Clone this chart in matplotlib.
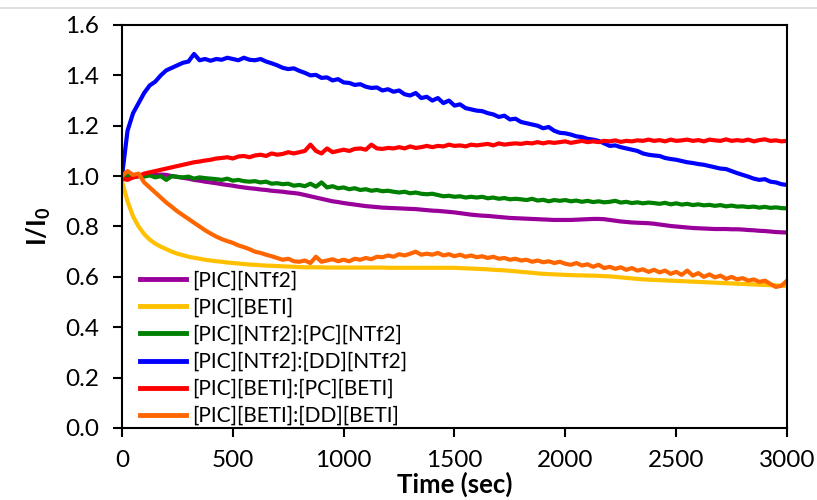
import numpy as np
import matplotlib
matplotlib.use("Agg")
import matplotlib.pyplot as plt
from matplotlib.lines import Line2D

plt.rcParams['font.family'] = ['Lato', 'DejaVu Sans']

# Sampling times (sec), one reading every 25 s
time_s = np.arange(0, 3001, 25)

labels = ["[PIC][NTf2]", "[PIC][BETI]", "[PIC][NTf2]:[PC][NTf2]",
          "[PIC][NTf2]:[DD][NTf2]", "[PIC][BETI]:[PC][BETI]", "[PIC][BETI]:[DD][BETI]"]
colors = ["#990099", "#FFC000", "#008000", "#0000FF", "#FF0000", "#FF6600"]

pic_ntf2 = [
    1.00, 0.998, 1.0, 1.002, 1.003, 1.005, 1.005, 1.006,
    1.005, 1.0, 0.997, 0.993, 0.99, 0.985, 0.982, 0.978,
    0.975, 0.972, 0.968, 0.965, 0.962, 0.958, 0.955, 0.952,
    0.95, 0.947, 0.945, 0.942, 0.94, 0.938, 0.935, 0.933,
    0.93, 0.925, 0.92, 0.915, 0.91, 0.905, 0.9, 0.897,
    0.893, 0.89, 0.887, 0.884, 0.881, 0.879, 0.877, 0.875,
    0.874, 0.873, 0.872, 0.871, 0.87, 0.869, 0.867, 0.865,
    0.863, 0.862, 0.86, 0.858, 0.856, 0.853, 0.85, 0.847,
    0.845, 0.843, 0.842, 0.84, 0.838, 0.836, 0.834, 0.833,
    0.832, 0.831, 0.83, 0.829, 0.828, 0.827, 0.826, 0.826,
    0.826, 0.826, 0.827, 0.828, 0.829, 0.83, 0.83, 0.829,
    0.826, 0.823, 0.82, 0.818, 0.816, 0.815, 0.814, 0.813,
    0.811, 0.808, 0.805, 0.802, 0.8, 0.798, 0.796, 0.794,
    0.793, 0.792, 0.791, 0.79, 0.79, 0.79, 0.789, 0.789,
    0.788, 0.786, 0.785, 0.783, 0.782, 0.78, 0.778, 0.777,
    0.776]

pic_beti = [
    0.98, 0.90, 0.84, 0.80, 0.77, 0.748, 0.732, 0.72,
    0.71, 0.70, 0.692, 0.686, 0.68, 0.676, 0.672, 0.668,
    0.665, 0.662, 0.66, 0.657, 0.655, 0.653, 0.651, 0.649,
    0.648, 0.646, 0.645, 0.644, 0.643, 0.642, 0.641, 0.64,
    0.639, 0.638, 0.638, 0.638, 0.638, 0.637, 0.637, 0.637,
    0.637, 0.637, 0.637, 0.637, 0.637, 0.637, 0.637, 0.637,
    0.636, 0.636, 0.636, 0.636, 0.636, 0.636, 0.636, 0.636,
    0.636, 0.636, 0.636, 0.636, 0.636, 0.635, 0.634, 0.633,
    0.632, 0.631, 0.63, 0.628, 0.627, 0.626, 0.624, 0.622,
    0.62, 0.618, 0.616, 0.614, 0.612, 0.611, 0.61, 0.609,
    0.608, 0.607, 0.606, 0.606, 0.605, 0.605, 0.604, 0.603,
    0.602, 0.6, 0.598, 0.596, 0.594, 0.592, 0.59, 0.589,
    0.588, 0.587, 0.586, 0.585, 0.584, 0.583, 0.582, 0.581,
    0.58, 0.579, 0.578, 0.577, 0.576, 0.575, 0.574, 0.573,
    0.572, 0.571, 0.57, 0.569, 0.568, 0.567, 0.566, 0.565,
    0.564]

ntf2_pc = [
    1.00, 1.005, 0.995, 1.00, 0.998, 1.003, 0.995, 1.00,
    0.985, 1.0, 0.997, 0.995, 0.998, 0.99, 0.995, 0.992,
    0.99, 0.988, 0.985, 0.99, 0.982, 0.985, 0.98, 0.978,
    0.98, 0.975, 0.978, 0.97, 0.972, 0.968, 0.97, 0.962,
    0.965, 0.96, 0.97, 0.958, 0.975, 0.955, 0.96, 0.952,
    0.955, 0.948, 0.952, 0.945, 0.948, 0.942, 0.945, 0.94,
    0.942, 0.938, 0.935, 0.938, 0.932, 0.935, 0.93, 0.928,
    0.93, 0.925, 0.92, 0.922, 0.918, 0.92, 0.915, 0.918,
    0.915, 0.918, 0.912, 0.915, 0.91, 0.913, 0.908, 0.91,
    0.908, 0.905, 0.91, 0.903, 0.906, 0.9, 0.905, 0.902,
    0.905, 0.9, 0.903, 0.898, 0.902, 0.897, 0.9, 0.896,
    0.898, 0.902, 0.895, 0.898, 0.893, 0.896, 0.892, 0.895,
    0.893, 0.89, 0.894, 0.888, 0.892, 0.887, 0.89, 0.885,
    0.888, 0.884, 0.886, 0.882, 0.885, 0.88, 0.883, 0.879,
    0.88, 0.877, 0.879, 0.875, 0.878, 0.874, 0.876, 0.873,
    0.872]

ntf2_dd = [
    1.00, 1.18, 1.25, 1.29, 1.33, 1.36, 1.375, 1.40,
    1.42, 1.43, 1.44, 1.45, 1.455, 1.485, 1.46, 1.465,
    1.458, 1.465, 1.462, 1.47, 1.465, 1.46, 1.47, 1.462,
    1.46, 1.465, 1.455, 1.448, 1.44, 1.43, 1.425, 1.428,
    1.418, 1.41, 1.40, 1.402, 1.39, 1.392, 1.38, 1.385,
    1.372, 1.37, 1.362, 1.365, 1.355, 1.35, 1.352, 1.34,
    1.345, 1.335, 1.34, 1.325, 1.32, 1.33, 1.31, 1.315,
    1.30, 1.31, 1.29, 1.30, 1.28, 1.285, 1.27, 1.265,
    1.26, 1.258, 1.25, 1.245, 1.235, 1.24, 1.225, 1.228,
    1.215, 1.21, 1.205, 1.20, 1.19, 1.195, 1.18, 1.172,
    1.17, 1.165, 1.158, 1.155, 1.148, 1.145, 1.14, 1.13,
    1.12, 1.122, 1.115, 1.11, 1.105, 1.10, 1.09, 1.085,
    1.082, 1.08, 1.072, 1.068, 1.065, 1.06, 1.055, 1.052,
    1.048, 1.045, 1.04, 1.035, 1.03, 1.028, 1.02, 1.012,
    1.005, 0.998, 0.99, 0.985, 0.988, 0.978, 0.975, 0.968,
    0.965]

beti_pc = [
    0.99, 0.985, 0.995, 1.00, 1.01, 1.015, 1.02, 1.025,
    1.03, 1.035, 1.04, 1.045, 1.05, 1.055, 1.058, 1.062,
    1.065, 1.07, 1.072, 1.075, 1.07, 1.078, 1.08, 1.075,
    1.082, 1.085, 1.08, 1.09, 1.085, 1.088, 1.095, 1.09,
    1.095, 1.10, 1.125, 1.10, 1.09, 1.11, 1.095, 1.10,
    1.105, 1.10, 1.108, 1.11, 1.105, 1.125, 1.11, 1.108,
    1.112, 1.11, 1.115, 1.11, 1.118, 1.112, 1.115, 1.12,
    1.115, 1.12, 1.118, 1.125, 1.12, 1.122, 1.118, 1.125,
    1.122, 1.125, 1.128, 1.122, 1.13, 1.125, 1.128, 1.13,
    1.128, 1.132, 1.13, 1.135, 1.13, 1.135, 1.132, 1.135,
    1.138, 1.132, 1.136, 1.14, 1.135, 1.138, 1.135, 1.14,
    1.138, 1.142, 1.136, 1.14, 1.138, 1.142, 1.14, 1.145,
    1.14, 1.143, 1.138, 1.145, 1.14, 1.142, 1.145, 1.14,
    1.143, 1.138, 1.145, 1.142, 1.14, 1.146, 1.14, 1.143,
    1.14, 1.145, 1.138, 1.143, 1.146, 1.14, 1.142, 1.138,
    1.14]

beti_dd = [
    1.00, 1.02, 1.005, 1.01, 0.975, 0.955, 0.935, 0.915,
    0.895, 0.878, 0.86, 0.845, 0.83, 0.815, 0.80, 0.785,
    0.772, 0.76, 0.75, 0.742, 0.735, 0.725, 0.718, 0.71,
    0.70, 0.695, 0.688, 0.682, 0.675, 0.668, 0.672, 0.662,
    0.66, 0.665, 0.655, 0.68, 0.66, 0.665, 0.67, 0.662,
    0.668, 0.662, 0.672, 0.668, 0.675, 0.67, 0.68, 0.678,
    0.685, 0.68, 0.69, 0.685, 0.692, 0.70, 0.688, 0.692,
    0.688, 0.695, 0.685, 0.69, 0.682, 0.688, 0.68, 0.685,
    0.678, 0.682, 0.675, 0.68, 0.672, 0.675, 0.668, 0.672,
    0.665, 0.668, 0.66, 0.665, 0.658, 0.662, 0.655, 0.66,
    0.652, 0.648, 0.655, 0.645, 0.65, 0.64, 0.648, 0.635,
    0.64, 0.632, 0.638, 0.628, 0.635, 0.625, 0.63, 0.62,
    0.628, 0.618, 0.625, 0.612, 0.62, 0.608, 0.625, 0.605,
    0.615, 0.6, 0.61, 0.598, 0.605, 0.592, 0.6, 0.59,
    0.595, 0.585, 0.59, 0.58, 0.585, 0.572, 0.56, 0.565,
    0.585]

series = [pic_ntf2, pic_beti, ntf2_pc, ntf2_dd, beti_pc, beti_dd]

x_ticks = [0, 500, 1000, 1500, 2000, 2500, 3000]
y_ticks = [0.0, 0.2, 0.4, 0.6, 0.8, 1.0, 1.2, 1.4, 1.6]

fig = plt.figure(figsize=(8.17, 5.0), dpi=100)
ax = fig.add_axes([0.1493, 0.144, 0.814, 0.806])

for vals, lab, col in zip(series, labels, colors):
    ax.plot(time_s, vals, color=col, lw=3.0, label=lab, solid_joinstyle='round')

ax.set_xlim(0, 3000)
ax.set_ylim(0, 1.6)
ax.set_xticks(x_ticks)
ax.set_yticks(y_ticks)
ax.set_yticklabels([f"{v:.1f}" for v in y_ticks])
ax.tick_params(axis='both', direction='out', length=6.5, width=1.5,
               labelsize=17.5, colors='black')
ax.tick_params(axis='y', pad=10)
ax.tick_params(axis='x', pad=9)
for sp in ax.spines.values():
    sp.set_linewidth(1.5)
    sp.set_color('black')

ax.set_xlabel("Time (sec)", fontsize=18.5, fontweight='bold', labelpad=1)
ax.set_ylabel("I/I$_\\mathregular{0}$", fontsize=18.5, fontweight='bold', labelpad=9)

leg = ax.legend(loc='lower left', bbox_to_anchor=(0.027, 0.005), frameon=False,
                fontsize=15, handlelength=2.2, handletextpad=0.3,
                labelspacing=0.34, borderpad=0, borderaxespad=0)
for h in leg.get_lines():
    h.set_linewidth(3.5)

# thin rule across the top of the figure
fig.add_artist(Line2D([0, 1], [0.984, 0.984], transform=fig.transFigure,
                      color='#d9d9d9', lw=1.2))

fig.savefig("out.png", dpi=100)
